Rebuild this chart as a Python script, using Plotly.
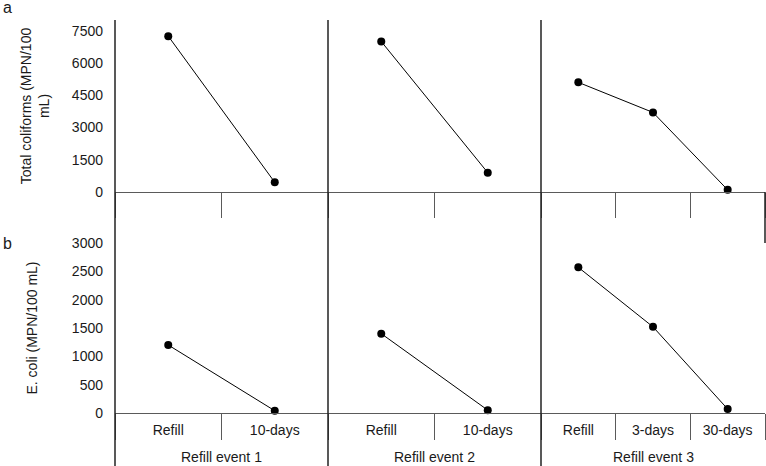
import plotly.graph_objects as go
from plotly.subplots import make_subplots

# ---- data ----
cats_two = ["Refill", "10-days"]
cats_three = ["Refill", "3-days", "30-days"]
event_labels = ["Refill event 1", "Refill event 2", "Refill event 3"]

tc_event1 = [7250, 450]
tc_event2 = [7000, 900]
tc_event3 = [5100, 3700, 100]

ec_event1 = [1200, 40]
ec_event2 = [1400, 50]
ec_event3 = [2570, 1520, 70]

tc_ticks = [0, 1500, 3000, 4500, 6000, 7500]
ec_ticks = [0, 500, 1000, 1500, 2000, 2500, 3000]

W, H = 766, 466
L, R, T, B = 115, 1, 20, 53
PW, PH = W - L - R, H - T - B


def py(pix):  # pixel row -> paper y
    return (H - B - pix) / PH


def px(pix):  # pixel column -> paper x
    return (pix - L) / PW


FONT = "Liberation Sans, Arial, sans-serif"
FS = 14
AX = "#5a5a5a"
TXT = "#1a1a1a"

fig = make_subplots(rows=2, cols=3)

cat_sets = [cats_two, cats_two, cats_three]
tc_sets = [tc_event1, tc_event2, tc_event3]
ec_sets = [ec_event1, ec_event2, ec_event3]

for c in range(3):
    fig.add_trace(go.Scatter(x=cat_sets[c], y=tc_sets[c], mode="lines+markers",
                             line=dict(color="black", width=1),
                             marker=dict(color="black", size=8),
                             cliponaxis=False, showlegend=False), row=1, col=c + 1)
    fig.add_trace(go.Scatter(x=cat_sets[c], y=ec_sets[c], mode="lines+markers",
                             line=dict(color="black", width=1),
                             marker=dict(color="black", size=8),
                             cliponaxis=False, showlegend=False), row=2, col=c + 1)

col_dom = [[0, px(328)], [px(328), px(541)], [px(541), 1]]
top_dom = [py(192), 1]
bot_dom = [0, py(243)]

for c in range(3):
    n = len(cat_sets[c])
    common_x = dict(type="category", categoryorder="array", categoryarray=cat_sets[c],
                    range=[-0.5, n - 0.5], tickson="boundaries", ticks="outside",
                    tickcolor=AX, tickwidth=1, showline=True, linecolor=AX, linewidth=1,
                    showgrid=False, zeroline=False, domain=col_dom[c], fixedrange=True)
    fig.update_xaxes(row=1, col=c + 1, ticklen=25, showticklabels=False, **common_x)
    fig.update_xaxes(row=2, col=c + 1, ticklen=26, showticklabels=True,
                     ticklabelstandoff=4,
                     tickfont=dict(family=FONT, size=FS, color=TXT), **common_x)
    fig.update_yaxes(row=1, col=c + 1, range=[0, 8000], tickvals=tc_ticks, domain=top_dom,
                     showgrid=False, zeroline=False, showline=False, ticks="",
                     showticklabels=(c == 0), ticklabelstandoff=11,
                     tickfont=dict(family=FONT, size=FS, color=TXT), fixedrange=True)
    fig.update_yaxes(row=2, col=c + 1, range=[0, 3000], tickvals=ec_ticks, domain=bot_dom,
                     showgrid=False, zeroline=False, showline=False, ticks="",
                     showticklabels=(c == 0), ticklabelstandoff=11,
                     tickfont=dict(family=FONT, size=FS, color=TXT), fixedrange=True)

fig.update_yaxes(row=1, col=1, title=dict(text="Total coliforms (MPN/100<br>mL)",
                                         font=dict(family=FONT, size=FS, color=TXT),
                                         standoff=18))
fig.update_yaxes(row=2, col=1, title=dict(text="E. coli (MPN/100 mL)",
                                         font=dict(family=FONT, size=FS, color=TXT),
                                         standoff=30))

shapes = []
for xp in [115, 328, 541]:
    shapes.append(dict(type="line", xref="paper", yref="paper", x0=px(xp), x1=px(xp),
                       y0=py(20), y1=py(466), line=dict(color="#222222", width=1.5)))
shapes.append(dict(type="line", xref="paper", yref="paper", x0=px(765), x1=px(765),
                   y0=py(192), y1=py(243), line=dict(color="#222222", width=1.5)))

annotations = []
for c in range(3):
    annotations.append(dict(text=event_labels[c], xref=f"x{c + 4} domain", x=0.5,
                            yref="paper", y=py(457), showarrow=False,
                            xanchor="center", yanchor="middle",
                            font=dict(family=FONT, size=FS, color=TXT)))
annotations.append(dict(text="a", xref="paper", x=px(1), yref="paper", y=py(8),
                        showarrow=False, xanchor="left", yanchor="middle",
                        font=dict(family=FONT, size=16, color=TXT)))
annotations.append(dict(text="b", xref="paper", x=px(1), yref="paper", y=py(243),
                        showarrow=False, xanchor="left", yanchor="middle",
                        font=dict(family=FONT, size=16, color=TXT)))

fig.update_layout(width=W, height=H, margin=dict(l=L, r=R, t=T, b=B, autoexpand=False),
                  paper_bgcolor="white", plot_bgcolor="white",
                  shapes=shapes, annotations=annotations,
                  font=dict(family=FONT, size=FS, color=TXT))

fig.write_html("out.html", config={"displayModeBar": False, "staticPlot": True},
               post_script="document.body.style.margin='0';document.body.style.overflow='hidden';")
